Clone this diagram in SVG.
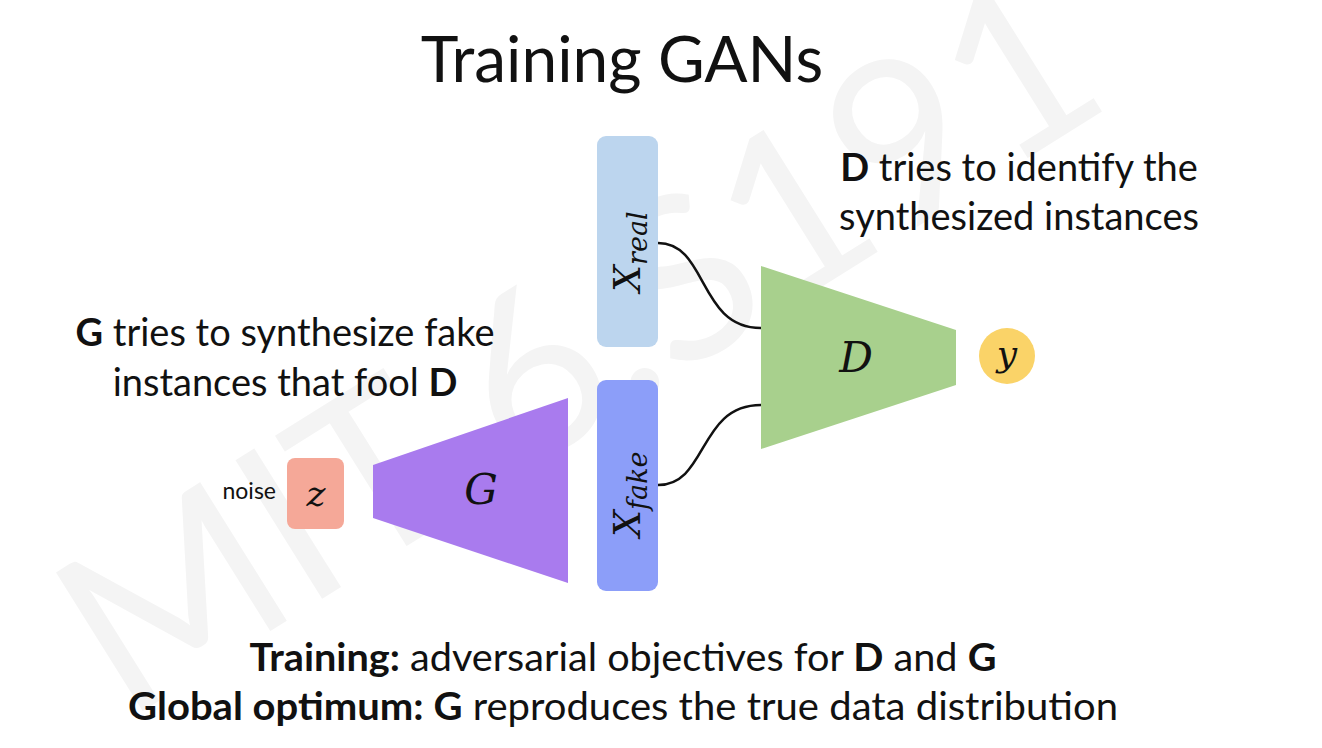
<svg xmlns="http://www.w3.org/2000/svg" width="1322" height="748" viewBox="0 0 1322 748">
<style>
.t{font-family:Lato,"Open Sans","Liberation Sans",sans-serif;fill:#111;}
.b{font-weight:bold;}
.m{font-family:"DejaVu Serif","Liberation Serif",serif;font-style:italic;fill:#111;}
.c{fill:none;stroke:#111;stroke-width:2.5;}
</style>
<rect width="1322" height="748" fill="#fff"/>
<text x="125" y="722" transform="rotate(-32 125 722)" font-family="Lato,'Liberation Sans',sans-serif" font-size="228" fill="#f4f4f4">MIT 6.S191</text>
<text class="t" x="622" y="82" font-size="64" text-anchor="middle">Training GANs</text>
<g id="connectors">
<path class="c" d="M658,243 C708,243 698,328 761,328"/>
<path class="c" d="M658,485 C708,485 698,405 761,405"/>
</g>
<g id="xreal">
<rect x="597" y="136" width="61" height="211" rx="9" fill="#bcd5ee"/>
<text class="m" transform="translate(640,292) rotate(-90)" font-size="38">X<tspan font-size="27" dy="7">real</tspan></text>
</g>
<g id="xfake">
<rect x="597" y="380" width="61" height="211" rx="9" fill="#8c9ef9"/>
<text class="m" transform="translate(640,537) rotate(-90)" font-size="38">X<tspan font-size="27" dy="7">fake</tspan></text>
</g>
<g id="noise">
<text class="t" x="276" y="499" font-size="23" text-anchor="end" fill="#222">noise</text>
</g>
<g id="z">
<rect x="287" y="458" width="57" height="71" rx="8" fill="#f5a898"/>
<text class="m" x="316" y="506" font-size="36" text-anchor="middle">z</text>
</g>
<g id="G">
<polygon points="373,465 568,398 568,583 373,518" fill="#a97bee"/>
<text class="m" x="481" y="504" font-size="42" text-anchor="middle">G</text>
</g>
<g id="D">
<polygon points="761,266 956,330 956,385 761,449" fill="#a8d08d"/>
<text class="m" x="856" y="372" font-size="42" text-anchor="middle">D</text>
</g>
<g id="y">
<circle cx="1007" cy="356" r="28" fill="#fad368"/>
<text class="m" x="1007" y="366" font-size="36" text-anchor="middle">y</text>
</g>
<g id="dtext">
<text class="t" x="1019" y="181" font-size="38" text-anchor="middle"><tspan class="b">D</tspan> tries to identify the</text>
<text class="t" x="1019" y="230" font-size="38" text-anchor="middle">synthesized instances</text>
</g>
<g id="gtext">
<text class="t" x="285" y="346" font-size="38" text-anchor="middle"><tspan class="b">G</tspan> tries to synthesize fake</text>
<text class="t" x="285" y="396" font-size="38" text-anchor="middle">instances that fool <tspan class="b">D</tspan></text>
</g>
<g id="bottom">
<text class="t" x="623" y="671" font-size="39" text-anchor="middle" textLength="747" lengthAdjust="spacingAndGlyphs"><tspan class="b">Training:</tspan> adversarial objectives for <tspan class="b">D</tspan> and <tspan class="b">G</tspan></text>
<text class="t" x="623" y="720" font-size="39" text-anchor="middle" textLength="990" lengthAdjust="spacingAndGlyphs"><tspan class="b">Global optimum: G</tspan> reproduces the true data distribution</text>
</g>
</svg>
